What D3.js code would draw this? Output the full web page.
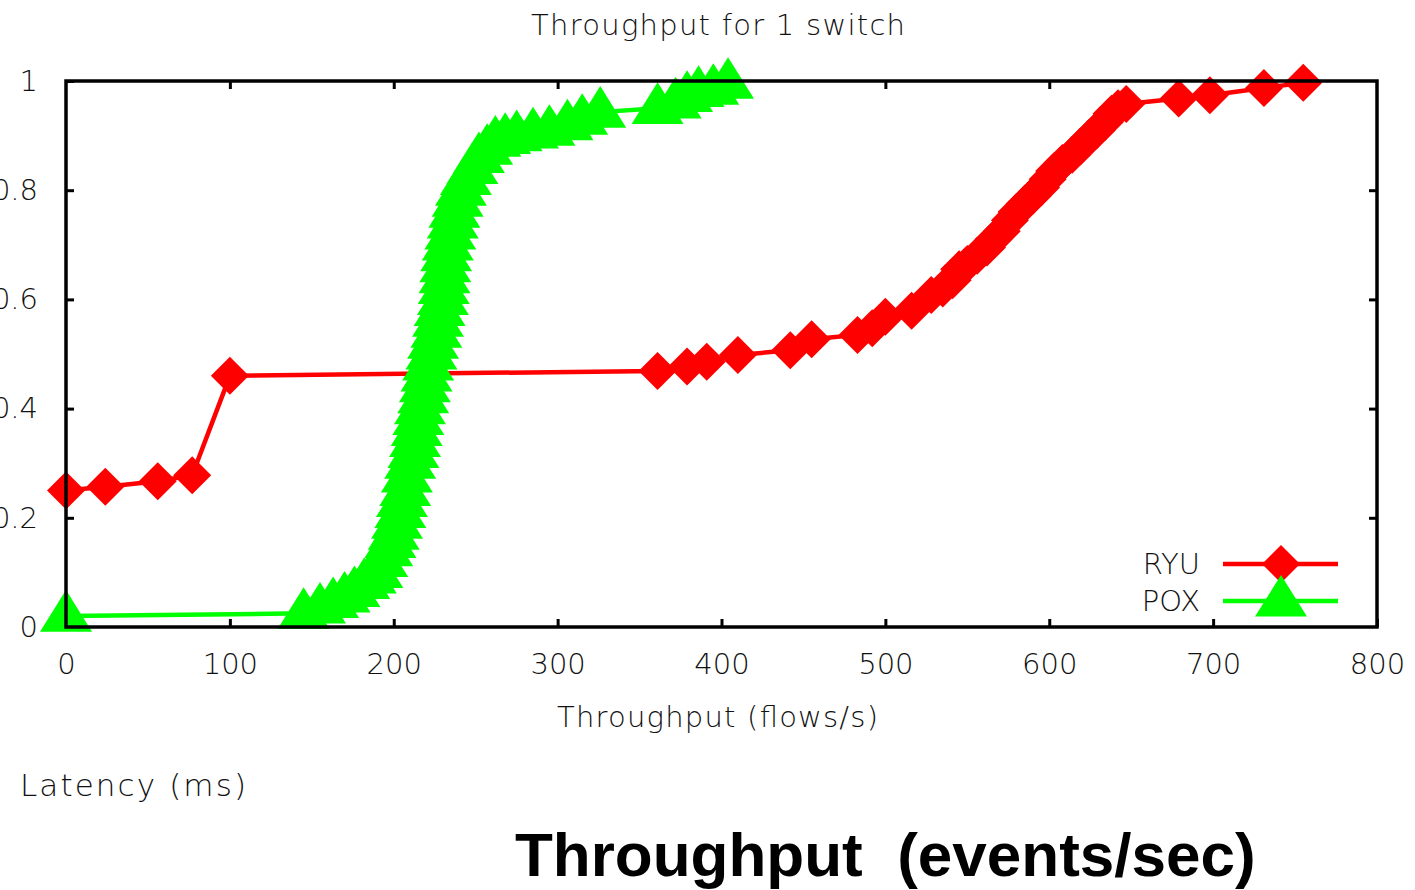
<!DOCTYPE html>
<html><head><meta charset="utf-8">
<script src="https://cdn.jsdelivr.net/npm/d3@7"></script>
<style>
body{margin:0;background:#fff;}
svg{display:block;background:#fff;}
.lt{font-family:"DejaVu Sans",sans-serif;font-weight:200;fill:#111;}
</style>
</head><body>
<svg id="c" width="1415" height="890"></svg>
<script>
// ---------- data ----------
const xTicks = [0, 100, 200, 300, 400, 500, 600, 700, 800];
const yTicks = [0, 0.2, 0.4, 0.6, 0.8, 1];
const yTickLabels = ["0", "0.2", "0.4", "0.6", "0.8", "1"];
const seriesNames = ["RYU", "POX"];
const seriesColors = ["#ff0000", "#00ff00"];

const ryuX = [0, 24, 56, 77, 100, 361, 379, 391, 410, 442, 455, 483, 492, 500, 516, 528, 535, 541, 545, 550, 556, 562, 566, 571, 576, 580, 585, 590, 595, 599, 603, 608, 614, 619, 624, 629, 634, 638, 642, 647, 679, 698, 731, 755];
const ryuY = [0.25, 0.257, 0.267, 0.278, 0.46, 0.469, 0.477, 0.486, 0.498, 0.507, 0.527, 0.535, 0.547, 0.568, 0.579, 0.608, 0.62, 0.635, 0.655, 0.665, 0.68, 0.695, 0.71, 0.725, 0.745, 0.76, 0.775, 0.79, 0.805, 0.82, 0.835, 0.85, 0.865, 0.88, 0.895, 0.91, 0.925, 0.94, 0.95, 0.958, 0.968, 0.974, 0.987, 0.997];

const poxX = [0, 145, 155, 163, 170, 176, 182, 186, 190, 193, 196, 198, 200, 202, 204, 205, 207, 208, 210, 212, 213, 214, 215, 216, 218, 219, 220, 221, 223, 224, 226, 227, 228, 230, 230.5, 231, 231.5, 232, 233, 234.5, 236, 237, 239, 241, 244, 248, 252, 257, 262, 268, 275, 285, 295, 306, 315, 326, 361, 372, 379, 386, 395, 404];
const poxY = [0.02, 0.025, 0.035, 0.045, 0.055, 0.065, 0.08, 0.09, 0.1, 0.12, 0.14, 0.155, 0.17, 0.19, 0.21, 0.23, 0.25, 0.275, 0.3, 0.32, 0.34, 0.36, 0.38, 0.4, 0.42, 0.44, 0.46, 0.48, 0.5, 0.52, 0.54, 0.56, 0.58, 0.6, 0.62, 0.64, 0.66, 0.68, 0.7, 0.72, 0.74, 0.76, 0.78, 0.8, 0.82, 0.84, 0.86, 0.875, 0.89, 0.895, 0.9, 0.905, 0.91, 0.92, 0.93, 0.943, 0.95, 0.96, 0.972, 0.981, 0.985, 0.996];

const titleText = "Throughput for 1 switch";
const xLabelText = "Throughput (flows/s)";
const extraLabelText = "Latency (ms)";
const bottomLabelText = "Throughput  (events/sec)";

// ---------- layout ----------
const L = 66, R = 1377, T = 81, B = 627;
const FS = 29;

const svg = d3.select("#c");
const x = d3.scaleLinear().domain([0, 800]).range([L, R]);
const y = d3.scaleLinear().domain([0, 1]).range([B, T]);

// custom symbols (gnuplot-like diamond and triangle)
const diamondSym = {draw(ctx, size) { const r = size; ctx.moveTo(0, -r); ctx.lineTo(r, 0); ctx.lineTo(0, r); ctx.lineTo(-r, 0); ctx.closePath(); }};
const triSym = {draw(ctx, size) { const w = size, up = size, dn = size * 0.6; ctx.moveTo(0, -up); ctx.lineTo(w, dn); ctx.lineTo(-w, dn); ctx.closePath(); }};

// axes (ticks inward, mirrored)
function styleAxis(g) {
  g.select(".domain").remove();
  g.selectAll(".tick line").attr("stroke", "#000").attr("stroke-width", 3);
  g.selectAll(".tick text").attr("class", "lt").attr("font-size", FS).attr("fill", "#111")
    .style("font-family", '"DejaVu Sans",sans-serif').style("font-weight", 200);
}
svg.append("g").attr("transform", `translate(0,${B})`)
  .call(d3.axisBottom(x).tickValues(xTicks).tickSize(-8).tickPadding(26).tickFormat(d3.format("d")))
  .call(styleAxis);
svg.append("g").attr("transform", `translate(0,${T})`)
  .call(d3.axisTop(x).tickValues(xTicks.slice(1, -1)).tickSize(-8).tickFormat(""))
  .call(styleAxis);
svg.append("g").attr("transform", `translate(${L},0)`)
  .call(d3.axisLeft(y).tickValues(yTicks).tickSize(-8).tickPadding(28).tickFormat((d, i) => yTickLabels[i]))
  .call(styleAxis);
svg.append("g").attr("transform", `translate(${R},0)`)
  .call(d3.axisRight(y).tickValues(yTicks.slice(1, -1)).tickSize(-8).tickFormat(""))
  .call(styleAxis);

// series
const series = [
  {name: seriesNames[0], color: seriesColors[0], xs: ryuX, ys: ryuY, sym: diamondSym, size: 19},
  {name: seriesNames[1], color: seriesColors[1], xs: poxX, ys: poxY, sym: triSym, size: 26}
];
const line = d3.line().x(d => x(d[0])).y(d => y(d[1]));
series.forEach(s => {
  const pts = s.xs.map((v, i) => [v, s.ys[i]]);
  const g = svg.append("g");
  g.append("path").attr("d", line(pts)).attr("fill", "none").attr("stroke", s.color).attr("stroke-width", 4.5);
  g.selectAll("path.m").data(pts).join("path").attr("class", "m")
    .attr("transform", d => `translate(${x(d[0])},${y(d[1])})`)
    .attr("d", d3.symbol().type(s.sym).size(s.size)())
    .attr("fill", s.color);
});

// frame
svg.append("rect").attr("x", L).attr("y", T).attr("width", R - L).attr("height", B - T)
  .attr("fill", "none").attr("stroke", "#000").attr("stroke-width", 3.5);

// legend
const legY = [564, 601];
series.forEach((s, i) => {
  svg.append("text").attr("class", "lt").attr("x", 1200).attr("y", legY[i] + 10)
    .attr("text-anchor", "end").attr("font-size", FS).text(s.name);
  svg.append("line").attr("x1", 1223).attr("x2", 1338).attr("y1", legY[i]).attr("y2", legY[i])
    .attr("stroke", s.color).attr("stroke-width", 4.5);
  svg.append("path").attr("transform", `translate(1281,${legY[i]})`)
    .attr("d", d3.symbol().type(s.sym).size(s.size)()).attr("fill", s.color);
});

// texts
svg.append("text").attr("class", "lt").attr("x", 531).attr("y", 35)
  .attr("textLength", 374).attr("lengthAdjust", "spacing")
  .attr("font-size", FS).text(titleText);
svg.append("text").attr("class", "lt").attr("x", 557).attr("y", 727)
  .attr("textLength", 321).attr("lengthAdjust", "spacing")
  .attr("font-size", FS).text(xLabelText);
svg.append("text").attr("class", "lt").attr("x", 20).attr("y", 796)
  .attr("textLength", 226).attr("lengthAdjust", "spacing")
  .attr("font-size", 31).text(extraLabelText);
svg.append("text").attr("x", 515).attr("y", 876).attr("font-size", 62)
  .attr("font-family", '"Liberation Sans",Arial,sans-serif').attr("font-weight", "bold")
  .attr("fill", "#000").style("white-space", "pre").text(bottomLabelText);
</script>
</body></html>
